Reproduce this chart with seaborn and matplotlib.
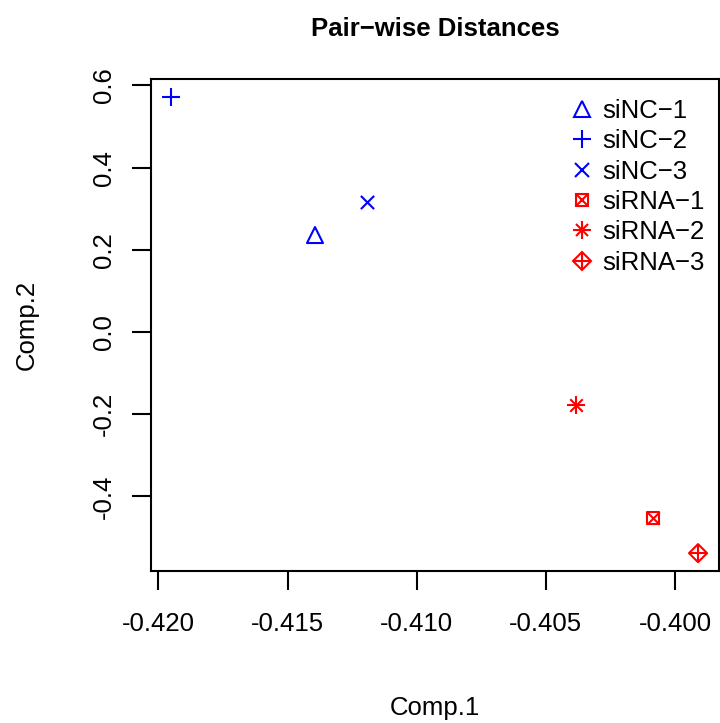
import numpy as np
import pandas as pd
import matplotlib
matplotlib.use("Agg")
import matplotlib.pyplot as plt
import seaborn as sns
from matplotlib.lines import Line2D
from matplotlib.legend_handler import HandlerTuple

# Data
samples = ["siNC-1", "siNC-2", "siNC-3", "siRNA-1", "siRNA-2", "siRNA-3"]
comp1 = [-0.41394, -0.41950, -0.41192, -0.40085, -0.40383, -0.39911]
comp2 = [0.236, 0.571, 0.316, -0.453, -0.178, -0.538]
groups = ["siNC", "siNC", "siNC", "siRNA", "siRNA", "siRNA"]
x_ticks = [-0.420, -0.415, -0.410, -0.405, -0.400]
y_ticks = [-0.4, -0.2, 0.0, 0.2, 0.4, 0.6]

group_colors = {"siNC": "#0000FF", "siRNA": "#FF0000"}

# R pch symbols built from matplotlib marker pieces: (marker, size in pt)
pch = {
    "siNC-1": [("^", 11.5)],
    "siNC-2": [("+", 12.5)],
    "siNC-3": [("x", 9.5)],
    "siRNA-1": [("s", 9.0), ("x", 9.0)],
    "siRNA-2": [("+", 12.5), ("x", 9.0)],
    "siRNA-3": [("D", 9.2), ("+", 13.0)],
}
filled = {"^", "s", "D"}

df = pd.DataFrame({"Comp.1": comp1, "Comp.2": comp2, "sample": samples, "group": groups})

sns.set_style("white")
plt.rcParams["font.family"] = ["Liberation Sans", "DejaVu Sans"]
plt.rcParams["axes.unicode_minus"] = True
plt.rcParams["text.color"] = "black"
plt.rcParams["axes.labelcolor"] = "black"

fig = plt.figure(figsize=(7.2, 7.23), dpi=100)
ax = fig.add_axes([0.2104, 0.2102, 0.7878, 0.6805])

lw = 1.5
handles = []
for _, row in df.iterrows():
    col = group_colors[row["group"]]
    parts = []
    for m, ms in pch[row["sample"]]:
        if m in filled:
            sns.scatterplot(x=[row["Comp.1"]], y=[row["Comp.2"]], marker=m, s=ms ** 2,
                            facecolors="none", edgecolors=col, linewidths=lw,
                            ax=ax, legend=False, zorder=3)
        else:
            sns.scatterplot(x=[row["Comp.1"]], y=[row["Comp.2"]], marker=m, s=ms ** 2,
                            color=col, linewidths=lw, ax=ax, legend=False, zorder=3)
        parts.append(Line2D([], [], ls="none", marker=m, markersize=ms,
                            markerfacecolor="none", markeredgecolor=col, mew=lw))
    handles.append(tuple(parts))

ax.set_xlim(-0.42027, -0.39831)
ax.set_ylim(-0.5815, 0.6156)
ax.set_xticks(x_ticks)
ax.set_xticklabels(["%.3f" % v for v in x_ticks])
ax.set_yticks(y_ticks)
ax.set_yticklabels(["%.1f" % v for v in y_ticks])

for s in ax.spines.values():
    s.set_color("black")
    s.set_linewidth(1.5)
ax.tick_params(axis="both", direction="out", length=13.7, width=1.5, colors="black",
               labelsize=18.5, pad=12, bottom=True, left=True)
ax.tick_params(axis="x", pad=16)
ax.tick_params(axis="y", labelrotation=90)
for t in ax.get_yticklabels():
    t.set_va("center")

ax.set_xlabel("Comp.1", fontsize=18.5, labelpad=43)
ax.set_ylabel("Comp.2", fontsize=18.5, labelpad=38)
ax.set_title("Pair\u2212wise Distances", fontsize=18.5, fontweight="bold", pad=31)

labels = [s.replace("-", "\u2212") for s in samples]
ax.legend(handles, labels, handler_map={tuple: HandlerTuple(ndivide=1, pad=0)},
          loc="upper left", bbox_to_anchor=(0.794, 0.8635), bbox_transform=fig.transFigure,
          frameon=False, fontsize=18.5, labelspacing=0.25, handlelength=0.8,
          handletextpad=0.4, borderaxespad=0, borderpad=0)

fig.savefig("out.png", dpi=100)
